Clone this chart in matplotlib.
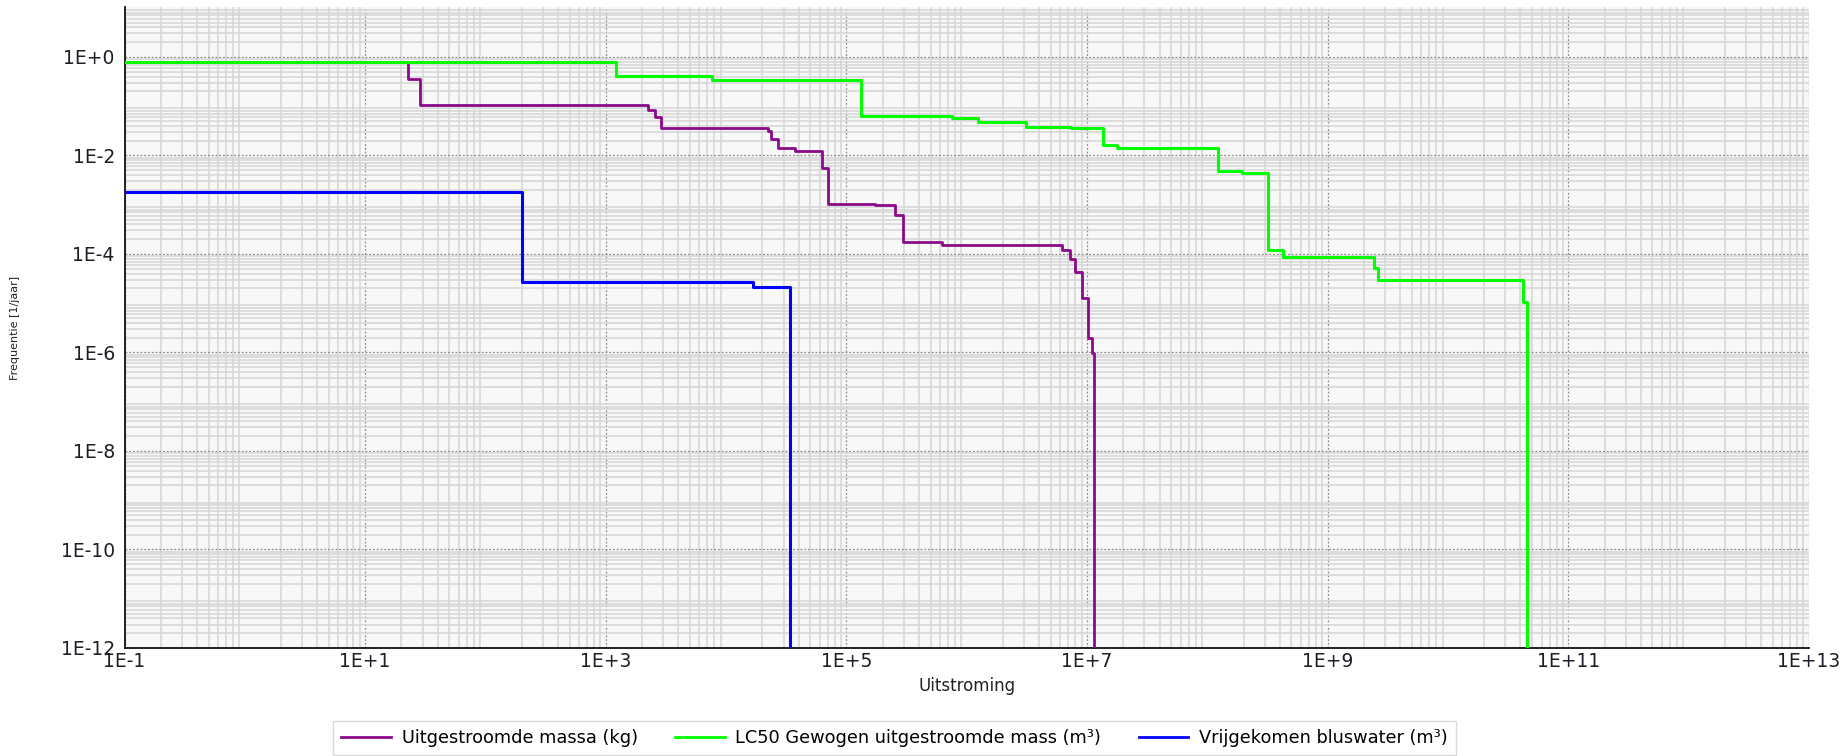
import matplotlib
matplotlib.use("Agg")
import matplotlib.pyplot as plt
from matplotlib.ticker import FixedLocator, FixedFormatter, NullFormatter

plt.rcParams["font.family"] = ["DejaVu Sans"]

# series: x = breakpoints, y = frequency level after each breakpoint
massa_x = [0.1, 22.7, 28.6, 2250, 2570, 2880, 22300, 23700, 27100, 37500, 62900, 70500,
           173000, 254000, 296000, 625000, 6.21e6, 7.24e6, 7.97e6, 9.12e6, 1.02e7, 1.10e7, 1.15e7]
massa_y = [0.78, 0.357, 0.106, 0.0839, 0.0605, 0.0370, 0.0314, 0.0216, 0.0139, 0.0126, 5.57e-3, 1.035e-3,
           9.66e-4, 6.19e-4, 1.75e-4, 1.52e-4, 1.21e-4, 8.1e-5, 4.31e-5, 1.28e-5, 1.97e-6, 9.8e-7, 1e-13]

lc50_x = [0.1, 1220, 7650, 1.315e5, 7.57e5, 1.245e6, 3.12e6, 7.38e6, 1.36e7, 1.78e7, 1.23e8,
          1.95e8, 3.20e8, 4.27e8, 2.43e9, 2.63e9, 4.21e10, 4.55e10]
lc50_y = [0.78, 0.411, 0.340, 0.0646, 0.0566, 0.0468, 0.0379, 0.0355, 0.0163, 0.0140, 4.91e-3,
          4.48e-3, 1.21e-4, 8.8e-5, 5.13e-5, 2.97e-5, 1.07e-5, 1e-13]

blus_x = [0.1, 200, 16800, 34000]
blus_y = [1.79e-3, 2.66e-5, 2.17e-5, 1e-13]

series_names = ["Uitgestroomde massa (kg)",
                "LC50 Gewogen uitgestroomde mass (m³)",
                "Vrijgekomen bluswater (m³)"]
series_colors = ["#8b0a8b", "#00ff00", "#0000ff"]

x_ticks = [1e-1, 1e1, 1e3, 1e5, 1e7, 1e9, 1e11, 1e13]
x_labels = ["1E-1", "1E+1", "1E+3", "1E+5", "1E+7", "1E+9", "1E+11", "1E+13"]
y_ticks = [1e0, 1e-2, 1e-4, 1e-6, 1e-8, 1e-10, 1e-12]
y_labels = ["1E+0", "1E-2", "1E-4", "1E-6", "1E-8", "1E-10", "1E-12"]

GRID_MINOR = "#d6d6d6"
GRID_MAJOR = "#8c8c8c"
PLOT_BG = "#f8f8f8"
TICK = "#1e1e28"

fig = plt.figure(figsize=(18.44, 7.56), dpi=100, facecolor="white")
ax = fig.add_axes([124.5 / 1844, 1 - 648 / 756, (1809 - 124.5) / 1844, (648 - 7) / 756], facecolor=PLOT_BG)
ax.set_xscale("log")
ax.set_yscale("log")
ax.set_xlim(1e-1, 1e13)
ax.set_ylim(1e-12, 10 ** 1.015)

# minor grid at 2..9 x 10^k
minor_x = [m * 10.0 ** k for k in range(-1, 13) for m in range(2, 10)]
minor_y = [m * 10.0 ** k for k in range(-12, 2) for m in range(2, 10)]
ax.xaxis.set_major_locator(FixedLocator(x_ticks))
ax.xaxis.set_major_formatter(FixedFormatter(x_labels))
ax.yaxis.set_major_locator(FixedLocator(y_ticks))
ax.yaxis.set_major_formatter(FixedFormatter(y_labels))
ax.xaxis.set_minor_locator(FixedLocator(minor_x))
ax.yaxis.set_minor_locator(FixedLocator(minor_y))
ax.xaxis.set_minor_formatter(NullFormatter())
ax.yaxis.set_minor_formatter(NullFormatter())

ax.grid(which="minor", color=GRID_MINOR, lw=1.1, ls="-", zorder=0)
ax.grid(which="major", color=GRID_MAJOR, lw=0.9, ls=(0, (1.5, 1.5)), zorder=0)
ax.set_axisbelow(True)

ax.tick_params(which="both", length=0)
ax.tick_params(axis="x", labelsize=13.5, labelcolor=TICK, pad=3)
ax.tick_params(axis="y", labelsize=13.5, labelcolor=TICK, pad=7)

for side in ["top", "right"]:
    ax.spines[side].set_visible(False)
for side in ["left", "bottom"]:
    ax.spines[side].set_color("#111111")
    ax.spines[side].set_linewidth(1.3)

ax.plot(massa_x, massa_y, drawstyle="steps-post", color=series_colors[0], lw=2.0,
        label=series_names[0], zorder=3)
ax.plot(lc50_x, lc50_y, drawstyle="steps-post", color=series_colors[1], lw=2.2,
        label=series_names[1], zorder=4)
ax.plot(blus_x, blus_y, drawstyle="steps-post", color=series_colors[2], lw=2.2,
        label=series_names[2], zorder=5)

fig.text(967 / 1844, 1 - 686 / 756, "Uitstroming", ha="center", va="center", fontsize=12, color="#222222")
fig.text(15 / 1844, 1 - 328 / 756, "Frequentie [1/jaar]", ha="center", va="center", rotation=90,
         fontsize=8, color="#222222")

leg = fig.legend(loc="center", bbox_to_anchor=(894.5 / 1844, 1 - 738 / 756), ncol=3, fontsize=12.8,
                 frameon=True, fancybox=False, edgecolor="#d0d0d0", handlelength=2.8,
                 handletextpad=0.6, columnspacing=2.1, borderpad=0.45)
leg.get_frame().set_linewidth(1.0)
for line in leg.get_lines():
    line.set_linewidth(2.0)

fig.savefig("out.png", dpi=100, facecolor="white")
